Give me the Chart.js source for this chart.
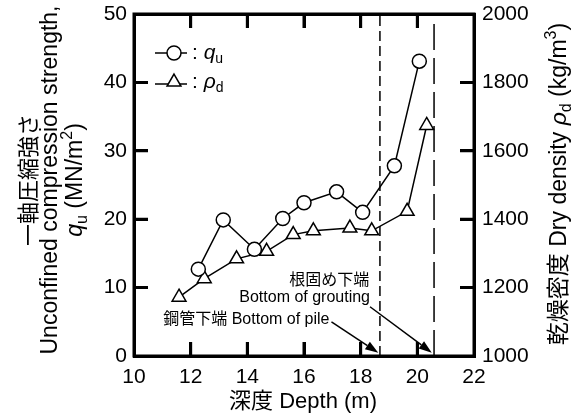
<!DOCTYPE html>
<html><head><meta charset="utf-8">
<script src="https://cdn.jsdelivr.net/npm/chart.js@4/dist/chart.umd.min.js"></script>
<style>
html,body{margin:0;padding:0;background:#fff}
#wrap{position:relative;width:577px;height:420px}
#wrap canvas{position:absolute;left:0;top:0}
.fr{position:absolute;background:#000;pointer-events:none}
</style>
</head><body>
<div id="wrap"><canvas id="c" width="577" height="420"></canvas></div>
<script>
// ---- data ----
const depthQu = [12.27, 13.15, 14.25, 15.25, 16.0, 17.15, 18.07, 19.19, 20.07];
const quValues = [12.7, 19.9, 15.6, 20.1, 22.4, 24.0, 21.0, 27.8, 43.1];
const depthRho = [11.59, 12.48, 13.62, 14.68, 15.62, 16.33, 17.62, 18.39, 19.64, 20.33];
const rhoValues = [1172, 1226, 1284, 1306, 1355, 1366, 1374, 1366, 1423, 1674];
const pileBottom = 18.68;     // short dashes
const groutBottom = 20.59;    // long dashes
const xTicks = [10, 12, 14, 16, 18, 20, 22];
const yTicks = [0, 10, 20, 30, 40, 50];
const y2Ticks = [1000, 1200, 1400, 1600, 1800, 2000];
const labelGrout = ['根固め下端', 'Bottom of grouting'];
const labelPile = '鋼管下端 Bottom of pile';
// annotation anchors in data units [depth, qu]
const groutTextAnchor = [18.3, 11.0];
const groutText2Anchor = [18.33, 8.6];
const pileTextAnchor = [16.9, 5.25];
const arrowGrout = [[18.33, 7.2], [20.51, 0.48]];
const arrowPile = [[16.97, 5.0], [18.62, 0.48]];

const FONT = '"Liberation Sans", Arial, "Noto Sans CJK JP", sans-serif';
const X0 = xTicks[0], X1 = xTicks[xTicks.length - 1];
const Y0 = yTicks[0], Y1 = yTicks[yTicks.length - 1];
const Z0 = y2Ticks[0], Z1 = y2Ticks[y2Ticks.length - 1];
const TICK_LEN = 14, FRAME_W = 3;

function pts(xs, ys) { return xs.map((x, i) => ({x: x, y: ys[i]})); }

function fontFor(s, size) {
  const sz = (s.sub || s.sup) ? Math.round(size * 0.68) : size;
  return (s.it ? 'italic ' : '') + sz + 'px ' + FONT;
}
function drawRich(ctx, segs, cx, cy, size, rot, align) {
  ctx.save();
  ctx.translate(cx, cy);
  ctx.rotate(rot || 0);
  ctx.textBaseline = 'middle';
  ctx.textAlign = 'left';
  let total = 0;
  const ws = segs.map(s => { ctx.font = fontFor(s, size); const w = ctx.measureText(s.t).width; total += w; return w; });
  let x = align === 'left' ? 0 : (align === 'right' ? -total : -total / 2);
  segs.forEach((s, i) => {
    ctx.font = fontFor(s, size);
    const dy = s.sub ? size * 0.3 : (s.sup ? -size * 0.38 : 0);
    ctx.fillStyle = '#000';
    ctx.fillText(s.t, x, dy);
    x += ws[i];
  });
  ctx.restore();
}

function arrow(ctx, x1, y1, x2, y2) {
  const ang = Math.atan2(y2 - y1, x2 - x1);
  const L = 13, W = 4.5;
  ctx.beginPath();
  ctx.moveTo(x1, y1);
  ctx.lineTo(x2 - L * Math.cos(ang), y2 - L * Math.sin(ang));
  ctx.lineWidth = 1.5; ctx.strokeStyle = '#000'; ctx.stroke();
  ctx.beginPath();
  ctx.moveTo(x2, y2);
  ctx.lineTo(x2 - L * Math.cos(ang) + W * Math.sin(ang), y2 - L * Math.sin(ang) - W * Math.cos(ang));
  ctx.lineTo(x2 - L * Math.cos(ang) - W * Math.sin(ang), y2 - L * Math.sin(ang) + W * Math.cos(ang));
  ctx.closePath(); ctx.fillStyle = '#000'; ctx.fill();
}

// frame + inward ticks, positioned from the chart's own scales
function buildFrame(chart) {
  const wrap = document.getElementById('wrap');
  wrap.querySelectorAll('.fr').forEach(e => e.remove());
  const sx = chart.scales.x, sy = chart.scales.y, sy2 = chart.scales.y2;
  const L = sx.getPixelForValue(X0), R = sx.getPixelForValue(X1);
  const T = sy.getPixelForValue(Y1), B = sy.getPixelForValue(Y0);
  const h = FRAME_W / 2;
  const add = (x, y, w, hh) => {
    const d = document.createElement('div');
    d.className = 'fr';
    d.style.left = x + 'px'; d.style.top = y + 'px';
    d.style.width = w + 'px'; d.style.height = hh + 'px';
    wrap.appendChild(d);
  };
  add(L - h, T - h, R - L + FRAME_W, FRAME_W);
  add(L - h, B - h, R - L + FRAME_W, FRAME_W);
  add(L - h, T - h, FRAME_W, B - T + FRAME_W);
  add(R - h, T - h, FRAME_W, B - T + FRAME_W);
  xTicks.slice(1, -1).forEach(v => {
    const p = sx.getPixelForValue(v);
    add(p - h, B - TICK_LEN, FRAME_W, TICK_LEN);
    add(p - h, T, FRAME_W, TICK_LEN);
  });
  yTicks.slice(1, -1).forEach(v => {
    add(L, sy.getPixelForValue(v) - h, TICK_LEN, FRAME_W);
  });
  y2Ticks.slice(1, -1).forEach(v => {
    add(R - TICK_LEN, sy2.getPixelForValue(v) - h, TICK_LEN, FRAME_W);
  });
}

const decor = {
  id: 'decor',
  afterDraw(chart) {
    const ctx = chart.ctx;
    const sx = chart.scales.x, sy = chart.scales.y, sy2 = chart.scales.y2;
    ctx.save();
    // frame and inward ticks on the canvas as well
    const a = chart.chartArea;
    ctx.strokeStyle = '#000';
    ctx.lineWidth = FRAME_W;
    ctx.strokeRect(a.left, a.top, a.right - a.left, a.bottom - a.top);
    ctx.beginPath();
    xTicks.slice(1, -1).forEach(v => {
      const p = sx.getPixelForValue(v);
      ctx.moveTo(p, a.bottom); ctx.lineTo(p, a.bottom - TICK_LEN);
      ctx.moveTo(p, a.top); ctx.lineTo(p, a.top + TICK_LEN);
    });
    yTicks.slice(1, -1).forEach(v => {
      const p = sy.getPixelForValue(v);
      ctx.moveTo(a.left, p); ctx.lineTo(a.left + TICK_LEN, p);
    });
    y2Ticks.slice(1, -1).forEach(v => {
      const p = sy2.getPixelForValue(v);
      ctx.moveTo(a.right, p); ctx.lineTo(a.right - TICK_LEN, p);
    });
    ctx.stroke();

    // annotations
    ctx.fillStyle = '#000';
    ctx.font = '16px ' + FONT;
    ctx.textBaseline = 'middle';
    ctx.textAlign = 'right';
    ctx.fillText(labelGrout[0], sx.getPixelForValue(groutTextAnchor[0]), sy.getPixelForValue(groutTextAnchor[1]));
    ctx.fillText(labelGrout[1], sx.getPixelForValue(groutText2Anchor[0]), sy.getPixelForValue(groutText2Anchor[1]));
    ctx.fillText(labelPile, sx.getPixelForValue(pileTextAnchor[0]), sy.getPixelForValue(pileTextAnchor[1]));
    [arrowGrout, arrowPile].forEach(ar => {
      arrow(ctx, sx.getPixelForValue(ar[0][0]), sy.getPixelForValue(ar[0][1]),
                 sx.getPixelForValue(ar[1][0]), sy.getPixelForValue(ar[1][1]));
    });

    // legend
    const lx1 = 155, lx2 = 187, mx = 174;
    const r1 = 53, r2 = 82;
    ctx.strokeStyle = '#000';
    ctx.lineWidth = 1.5;
    ctx.beginPath(); ctx.moveTo(lx1, r1); ctx.lineTo(lx2, r1); ctx.stroke();
    ctx.beginPath(); ctx.moveTo(lx1, r2 + 2); ctx.lineTo(lx2, r2 + 2); ctx.stroke();
    ctx.fillStyle = '#fff';
    ctx.beginPath(); ctx.arc(mx, r1, 7, 0, Math.PI * 2); ctx.fill(); ctx.stroke();
    ctx.beginPath();
    ctx.moveTo(mx, r2 - 8); ctx.lineTo(mx + 8 * Math.sin(2 * Math.PI / 3), r2 + 4); ctx.lineTo(mx - 8 * Math.sin(2 * Math.PI / 3), r2 + 4); ctx.closePath();
    ctx.fill(); ctx.stroke();
    drawRich(ctx, [{t: ': '}, {t: 'q', it: true}, {t: 'u', sub: true}], 192, r1, 21, 0, 'left');
    drawRich(ctx, [{t: ': '}, {t: 'ρ', it: true}, {t: 'd', sub: true}], 192, r2, 21, 0, 'left');

    // axis titles
    drawRich(ctx, [{t: '一軸圧縮強さ'}], 30, 180, 22, -Math.PI / 2);
    drawRich(ctx, [{t: 'Unconfined compression strength,'}], 51, 180, 23, -Math.PI / 2);
    drawRich(ctx, [{t: 'q', it: true}, {t: 'u', sub: true}, {t: ' (MN/m'}, {t: '2', sup: true}, {t: ')'}], 76, 180, 23, -Math.PI / 2);
    drawRich(ctx, [{t: '乾燥密度 Dry density '}, {t: 'ρ', it: true}, {t: 'd', sub: true}, {t: ' (kg/m'}, {t: '3', sup: true}, {t: ')'}], 560, 184, 23, -Math.PI / 2);
    drawRich(ctx, [{t: '深度 Depth (m)'}], 303, 402, 22, 0);
    ctx.restore();
  }
};

const tickFont = {family: FONT, size: 21};
const plain = v => String(v);
const noGrid = {display: false, drawTicks: false};
const noBorder = {display: false};
const chart = new Chart(document.getElementById('c'), {
  type: 'scatter',
  data: {
    datasets: [
      {data: [{x: pileBottom, y: Y0}, {x: pileBottom, y: Y1}], yAxisID: 'y', showLine: true, borderColor: '#000',
       borderWidth: 1.5, borderDash: [10, 5], pointRadius: 0, order: 4},
      {data: [{x: groutBottom, y: Y0}, {x: groutBottom, y: Y1}], yAxisID: 'y', showLine: true, borderColor: '#000',
       borderWidth: 1.5, borderDash: [26, 8], pointRadius: 0, order: 4},
      {data: pts(depthRho, rhoValues), yAxisID: 'y2', showLine: true, borderColor: '#000', borderWidth: 1.5,
       pointStyle: 'triangle', pointRadius: 8, pointBackgroundColor: '#fff', pointBorderColor: '#000', pointBorderWidth: 1.5, order: 2},
      {data: pts(depthQu, quValues), yAxisID: 'y', showLine: true, borderColor: '#000', borderWidth: 1.5,
       pointStyle: 'circle', pointRadius: 7, pointBackgroundColor: '#fff', pointBorderColor: '#000', pointBorderWidth: 1.5, order: 1}
    ]
  },
  options: {
    responsive: false, animation: false, devicePixelRatio: 1,
    layout: {padding: 0},
    plugins: {legend: {display: false}, tooltip: {enabled: false}},
    scales: {
      x: {type: 'linear', min: X0, max: X1, position: 'bottom',
          afterBuildTicks: s => { s.ticks = xTicks.map(v => ({value: v})); },
          ticks: {font: tickFont, color: '#000', padding: 9, autoSkip: false, maxRotation: 0, callback: plain},
          grid: noGrid, border: noBorder,
          afterFit: s => { s.height = 64; s.paddingLeft = 0; s.paddingRight = 0; }},
      x2: {type: 'linear', min: X0, max: X1, position: 'top', axis: 'x',
          ticks: {display: false},
          grid: noGrid, border: noBorder,
          afterFit: s => { s.height = 14; s.paddingLeft = 0; s.paddingRight = 0; }},
      y: {type: 'linear', min: Y0, max: Y1, position: 'left',
          afterBuildTicks: s => { s.ticks = yTicks.map(v => ({value: v})); },
          ticks: {font: tickFont, color: '#000', padding: 7, autoSkip: false, callback: plain},
          grid: noGrid, border: noBorder,
          afterFit: s => { s.width = 134; s.paddingTop = 0; s.paddingBottom = 0; }},
      y2: {type: 'linear', min: Z0, max: Z1, position: 'right',
          afterBuildTicks: s => { s.ticks = y2Ticks.map(v => ({value: v})); },
          ticks: {font: tickFont, color: '#000', padding: 8, autoSkip: false, callback: plain},
          grid: noGrid, border: noBorder,
          afterFit: s => { s.width = 103; s.paddingTop = 0; s.paddingBottom = 0; }}
    }
  },
  plugins: [decor]
});
buildFrame(chart);
</script>
</body></html>
